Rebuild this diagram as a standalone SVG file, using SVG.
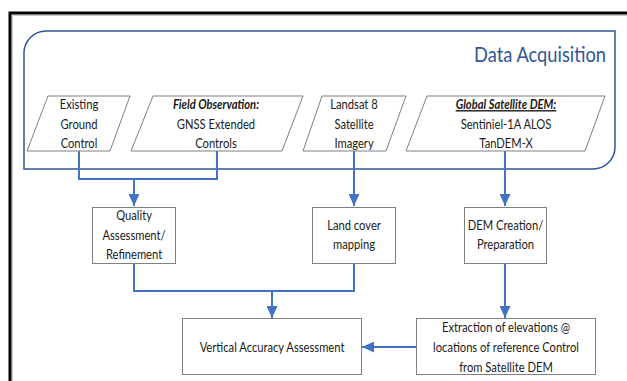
<svg xmlns="http://www.w3.org/2000/svg" width="627" height="381" viewBox="0 0 627 381">
<style>
  .frame{fill:none;stroke:#000;stroke-width:3}
  .inner{fill:none;stroke:#c8c8c8;stroke-width:1}
  .container{fill:none;stroke:#2F5597;stroke-width:1.5}
  .shape{fill:#fff;stroke:#7f7f7f;stroke-width:1}
  .conn{fill:none;stroke:#4472C4;stroke-width:2}
  .t{font-family:Lato,"Liberation Sans",sans-serif;font-size:14px;fill:#1a1a1a;text-anchor:middle;transform-box:fill-box;transform-origin:center;transform:scaleX(0.8)}
  .bi{font-weight:bold;font-style:italic}
  .u{text-decoration:underline}
  .title{font-family:Lato,"Liberation Sans",sans-serif;font-size:21px;fill:#2F5597;text-anchor:end;transform-box:fill-box;transform-origin:right center;transform:scaleX(0.87)}
</style>
<defs>
  <marker id="arr" markerUnits="userSpaceOnUse" markerWidth="12" markerHeight="11" refX="12" refY="5.5" orient="auto">
    <path d="M0,0 L12,5.5 L0,11 Z" fill="#4472C4"/>
  </marker>
</defs>
<rect width="627" height="381" fill="#fff"/>
<path class="frame" d="M10,381 V13 H627"/>
<path class="inner" d="M12.5,381 V15.5 H627"/>

<g id="data-acquisition">
  <path class="container" d="M24,169 V53 A22,22 0 0 1 46,31 H615 V147 A22,22 0 0 1 593,169 Z"/>
  <text class="title" x="606" y="62">Data Acquisition</text>
</g>

<g id="connectors">
  <path class="conn" d="M79,151 V179 H217 V151"/>
  <path class="conn" d="M134,179 V206" marker-end="url(#arr)"/>
  <path class="conn" d="M354,151 V206" marker-end="url(#arr)"/>
  <path class="conn" d="M505,151 V206" marker-end="url(#arr)"/>
  <path class="conn" d="M134,263 V291 H354 V263"/>
  <path class="conn" d="M272,291 V318" marker-end="url(#arr)"/>
  <path class="conn" d="M505,263 V318" marker-end="url(#arr)"/>
  <path class="conn" d="M416,347 H362" marker-end="url(#arr)"/>
</g>

<g id="existing-ground-control">
  <path class="shape" d="M48,96 H130 L110,151 H27 Z"/>
  <text class="t" x="79" y="109">Existing</text>
  <text class="t" x="79" y="129">Ground</text>
  <text class="t" x="79" y="148.5">Control</text>
</g>

<g id="field-observation">
  <path class="shape" d="M153,96 H303 L282,151 H131 Z"/>
  <text class="t bi" x="216" y="109">Field Observation:</text>
  <text class="t" x="216" y="129">GNSS Extended</text>
  <text class="t" x="216" y="148.5">Controls</text>
</g>

<g id="landsat">
  <path class="shape" d="M322,96 H406 L386,151 H303 Z"/>
  <text class="t" x="354" y="109">Landsat 8</text>
  <text class="t" x="354" y="129">Satellite</text>
  <text class="t" x="354" y="148.5">Imagery</text>
</g>

<g id="global-dem">
  <path class="shape" d="M427,96 H605 L585,151 H406 Z"/>
  <text class="t bi u" x="506" y="109">Global Satellite DEM:</text>
  <text class="t" x="506" y="129">Sentiniel-1A ALOS</text>
  <text class="t" x="506" y="148.5">TanDEM-X</text>
</g>

<g id="quality">
  <rect class="shape" x="92.5" y="207.5" width="83" height="56"/>
  <text class="t" x="134" y="220">Quality</text>
  <text class="t" x="134" y="240">Assessment/</text>
  <text class="t" x="134" y="259.5">Refinement</text>
</g>

<g id="land-cover">
  <rect class="shape" x="312.5" y="207.5" width="83" height="56"/>
  <text class="t" x="354" y="230">Land cover</text>
  <text class="t" x="354" y="249">mapping</text>
</g>

<g id="dem-creation">
  <rect class="shape" x="464.5" y="207.5" width="82" height="56"/>
  <text class="t" x="505.5" y="230">DEM Creation/</text>
  <text class="t" x="505.5" y="249">Preparation</text>
</g>

<g id="vertical-accuracy">
  <rect class="shape" x="182.5" y="318.5" width="179" height="56"/>
  <text class="t" x="272" y="352">Vertical Accuracy Assessment</text>
</g>

<g id="extraction">
  <rect class="shape" x="416.5" y="318.5" width="179" height="56"/>
  <text class="t" x="506" y="332">Extraction of elevations @</text>
  <text class="t" x="506" y="352">locations of reference Control</text>
  <text class="t" x="506" y="372">from Satellite DEM</text>
</g>
</svg>
